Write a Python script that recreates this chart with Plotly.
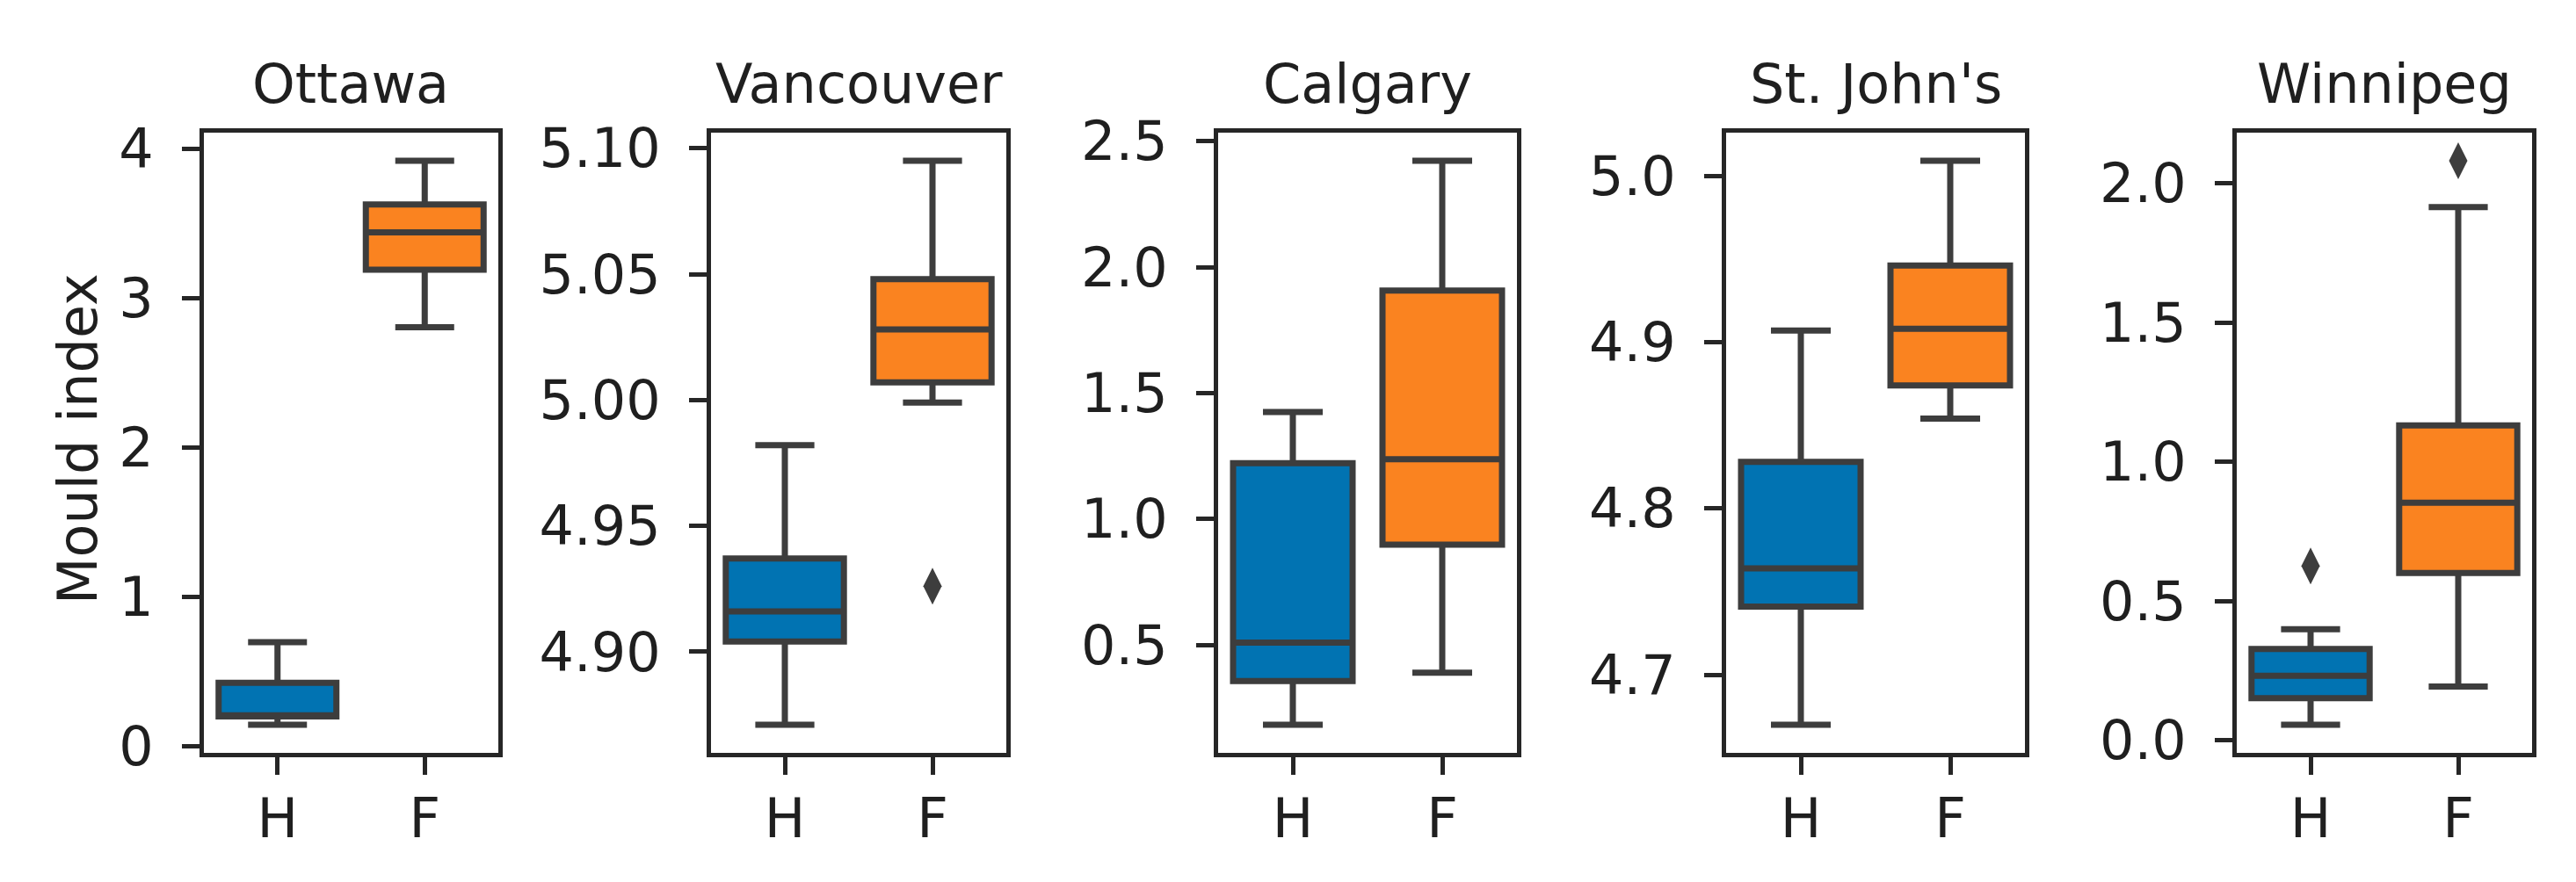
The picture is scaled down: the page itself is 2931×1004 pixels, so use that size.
import plotly.graph_objects as go

# ---------------- data ----------------
cities = ["Ottawa", "Vancouver", "Calgary", "St. John's", "Winnipeg"]
groups = ["H", "F"]

# H (blue) statistics per city
h_low = [0.142, 4.871, 0.183, 4.670, 0.056]
h_q1 = [0.198, 4.904, 0.356, 4.741, 0.151]
h_med = [0.205, 4.916, 0.509, 4.764, 0.232]
h_q3 = [0.422, 4.937, 1.221, 4.828, 0.328]
h_high = [0.695, 4.982, 1.425, 4.907, 0.399]
h_outliers = [[], [], [], [], [0.626]]

# F (orange) statistics per city
f_low = [2.804, 4.999, 0.389, 4.854, 0.193]
f_q1 = [3.189, 5.007, 0.898, 4.874, 0.601]
f_med = [3.439, 5.028, 1.237, 4.908, 0.853]
f_q3 = [3.626, 5.048, 1.907, 4.946, 1.131]
f_high = [3.918, 5.095, 2.422, 5.009, 1.915]
f_outliers = [[], [4.926], [], [], [2.081]]

ytick_vals = [
    [0, 1, 2, 3, 4],
    [4.90, 4.95, 5.00, 5.05, 5.10],
    [0.5, 1.0, 1.5, 2.0, 2.5],
    [4.7, 4.8, 4.9, 5.0],
    [0.0, 0.5, 1.0, 1.5, 2.0],
]
ytick_text = [
    ["0", "1", "2", "3", "4"],
    ["4.90", "4.95", "5.00", "5.05", "5.10"],
    ["0.5", "1.0", "1.5", "2.0", "2.5"],
    ["4.7", "4.8", "4.9", "5.0"],
    ["0.0", "0.5", "1.0", "1.5", "2.0"],
]
y_label = "Mould index"

# ---------------- style ----------------
W, H = 2931, 1004
FONT = "DejaVu Sans"
FS = 62
TXT = "#1f1f1f"
AX = "#262626"
BOXLINE = "#3d3d3d"
BLUE = "#0173b2"
ORANGE = "#fa8320"
left_px = [232, 809, 1386, 1964, 2545]
right_px = [567, 1145, 1726, 2304, 2881]
top_px, bottom_px = 151, 857

fig = go.Figure()

for i, city in enumerate(cities):
    xa = "x" if i == 0 else f"x{i+1}"
    ya = "y" if i == 0 else f"y{i+1}"
    for g, col, lo, q1, md, q3, hi in [
        ("H", BLUE, h_low, h_q1, h_med, h_q3, h_high),
        ("F", ORANGE, f_low, f_q1, f_med, f_q3, f_high),
    ]:
        fig.add_trace(go.Box(
            x=[g], q1=[q1[i]], median=[md[i]], q3=[q3[i]],
            lowerfence=[lo[i]], upperfence=[hi[i]],
            width=0.8, whiskerwidth=0.5,
            fillcolor=col, line=dict(color=BOXLINE, width=7),
            boxpoints=False, showlegend=False, hoverinfo="skip",
            xaxis=xa, yaxis=ya,
        ))
    for g, outs in [("H", h_outliers[i]), ("F", f_outliers[i])]:
        if outs:
            fig.add_trace(go.Scatter(
                x=[g] * len(outs), y=outs, mode="markers",
                marker=dict(symbol="diamond-tall", size=30, color=BOXLINE,
                            line=dict(width=0)),
                showlegend=False, hoverinfo="skip", xaxis=xa, yaxis=ya,
            ))

    allv = [h_low[i], h_high[i], f_low[i], f_high[i]] + h_outliers[i] + f_outliers[i]
    vmin, vmax = min(allv), max(allv)
    pad = 0.05 * (vmax - vmin)

    xdom = [left_px[i] / W, right_px[i] / W]
    ydom = [1 - bottom_px / H, 1 - top_px / H]
    axis_common = dict(
        showline=True, linecolor=AX, linewidth=5, mirror=True,
        ticks="outside", ticklen=20, tickwidth=5, tickcolor=AX,
        showgrid=False, zeroline=False, automargin=False,
        tickfont=dict(family=FONT, size=FS, color=TXT),
    )
    fig.layout[f"xaxis{'' if i == 0 else i+1}"] = dict(
        domain=xdom, anchor=ya, type="category",
        categoryorder="array", categoryarray=groups,
        range=[-0.5, 1.5], ticklabelstandoff=-3, **axis_common,
    )
    fig.layout[f"yaxis{'' if i == 0 else i+1}"] = dict(
        domain=ydom, anchor=xa, range=[vmin - pad, vmax + pad],
        tickvals=ytick_vals[i], ticktext=ytick_text[i],
        ticklabelstandoff=20, **axis_common,
    )
    fig.add_annotation(
        x=(left_px[i] + right_px[i]) / 2 / W, y=1 - 95 / H,
        xref="paper", yref="paper", text=city, showarrow=False,
        xanchor="center", yanchor="middle",
        font=dict(family=FONT, size=FS, color=TXT),
    )

fig.add_annotation(
    x=88 / W, y=1 - 500 / H, xref="paper", yref="paper",
    text=y_label, textangle=-90, showarrow=False,
    xanchor="center", yanchor="middle",
    font=dict(family=FONT, size=FS, color=TXT),
)

fig.update_layout(
    width=W, height=H, margin=dict(l=0, r=0, t=0, b=0),
    paper_bgcolor="white", plot_bgcolor="white",
    boxmode="overlay",
)

fig.write_html(
    "out.html",
    config={"displayModeBar": False},
    post_script="document.body.style.margin='0';document.body.style.overflow='hidden';",
)
